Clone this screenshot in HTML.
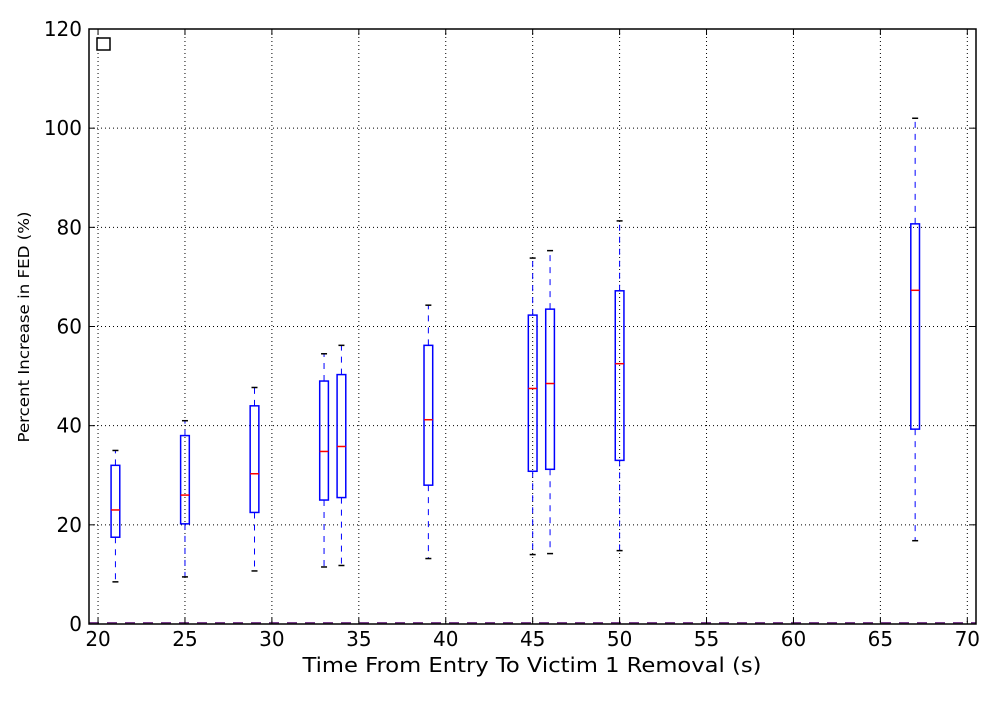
<!DOCTYPE html>
<html><head><meta charset="utf-8"><style>
body{margin:0;background:#fff;}
svg text{font-family:"DejaVu Sans","Liberation Sans",sans-serif;}
</style></head><body>
<svg id="chart" width="1000" height="700" xmlns="http://www.w3.org/2000/svg"></svg>
<script>
const positions=[21,25,29,33,34,39,45,46,50,67];
const whiskerLow=[8.5,9.5,10.7,11.5,11.8,13.2,14,14.2,14.8,16.8];
const q1=[17.5,20.2,22.5,25,25.5,28,30.8,31.2,33,39.3];
const medians=[23,26,30.3,34.8,35.8,41.2,47.5,48.5,52.5,67.3];
const q3=[32,38,44,49,50.3,56.2,62.3,63.5,67.2,80.7];
const whiskerHigh=[35,41,47.7,54.5,56.2,64.3,73.8,75.3,81.3,102];
const xTicks=[20,25,30,35,40,45,50,55,60,65,70];
const yTicks=[0,20,40,60,80,100,120];

const L=89,R=976,T=29,B=624;
const xmin=19.48,xmax=70.5,ymin=0,ymax=120;
const X=v=>L+(v-xmin)/(xmax-xmin)*(R-L);
const Y=v=>B-(v-ymin)/(ymax-ymin)*(B-T);
const svg=document.getElementById('chart');
const NS='http://www.w3.org/2000/svg';
function mk(tag,attrs,parent){const e=document.createElementNS(NS,tag);for(const k in attrs)e.setAttribute(k,attrs[k]);(parent||svg).appendChild(e);return e;}

const grid=mk('g',{});


xTicks.forEach(t=>{
  const l=mk('line',{x1:X(t),x2:X(t),y1:T,y2:B,stroke:'#000','stroke-width':1,'stroke-dasharray':'1,3'},grid);
  
  
});
yTicks.forEach(t=>{
  const l=mk('line',{x1:L,x2:R,y1:Y(t),y2:Y(t),stroke:'#000','stroke-width':1,'stroke-dasharray':'1,3'},grid);
  
  
});

const base=mk('line',{x1:L,x2:R,y1:Y(0)-1,y2:Y(0)-1,stroke:'#7a3d8c','stroke-width':2,'stroke-dasharray':'10,8'});



const hw=0.25;
positions.forEach((p,i)=>{
  const g=mk('g',{});
  
  
  const cx=X(p);
  mk('line',{x1:cx,x2:cx,y1:Y(q3[i]),y2:Y(whiskerHigh[i]),stroke:'#0000ff','stroke-width':1,'stroke-dasharray':'6,6'},g);
  mk('line',{x1:cx,x2:cx,y1:Y(q1[i]),y2:Y(whiskerLow[i]),stroke:'#0000ff','stroke-width':1,'stroke-dasharray':'6,6'},g);
  mk('line',{x1:cx-3,x2:cx+3,y1:Y(whiskerHigh[i]),y2:Y(whiskerHigh[i]),stroke:'#000','stroke-width':1.5},g);
  mk('line',{x1:cx-3,x2:cx+3,y1:Y(whiskerLow[i]),y2:Y(whiskerLow[i]),stroke:'#000','stroke-width':1.5},g);
  mk('rect',{x:X(p-hw),y:Y(q3[i]),width:X(p+hw)-X(p-hw),height:Y(q1[i])-Y(q3[i]),fill:'none',stroke:'#0000ff','stroke-width':1.5},g);
  mk('line',{x1:X(p-hw),x2:X(p+hw),y1:Y(medians[i]),y2:Y(medians[i]),stroke:'#ff0000','stroke-width':1.5},g);
});

const frame=mk('rect',{x:L,y:T,width:R-L,height:B-T,fill:'none',stroke:'#000','stroke-width':1.5});



xTicks.forEach(t=>{
  mk('line',{x1:X(t),x2:X(t),y1:B,y2:B-6,stroke:'#000'});
  mk('line',{x1:X(t),x2:X(t),y1:T,y2:T+6,stroke:'#000'});
  const tx=mk('text',{x:X(t),y:B+22,'font-size':20,'text-anchor':'middle'});
  tx.textContent=t;
  
  
});
yTicks.forEach(t=>{
  mk('line',{x1:L,x2:L+6,y1:Y(t),y2:Y(t),stroke:'#000'});
  mk('line',{x1:R,x2:R-6,y1:Y(t),y2:Y(t),stroke:'#000'});
  const tx=mk('text',{x:L-7,y:Y(t)+7,'font-size':20,'text-anchor':'end'});
  tx.textContent=t;
  
  
});

const leg=mk('rect',{x:97,y:38,width:13,height:12,fill:'#fff',stroke:'#000','stroke-width':1.5});



const xt=mk('text',{x:532,y:672,'font-size':20,'text-anchor':'middle',textLength:459,lengthAdjust:'spacingAndGlyphs'});
xt.textContent='Time From Entry To Victim 1 Removal (s)';


const yt=mk('text',{x:29,y:327,'font-size':15,'text-anchor':'middle',textLength:231,lengthAdjust:'spacingAndGlyphs',transform:'rotate(-90 29 327)'});
yt.textContent='Percent Increase in FED (%)';


</script>
</body></html>
